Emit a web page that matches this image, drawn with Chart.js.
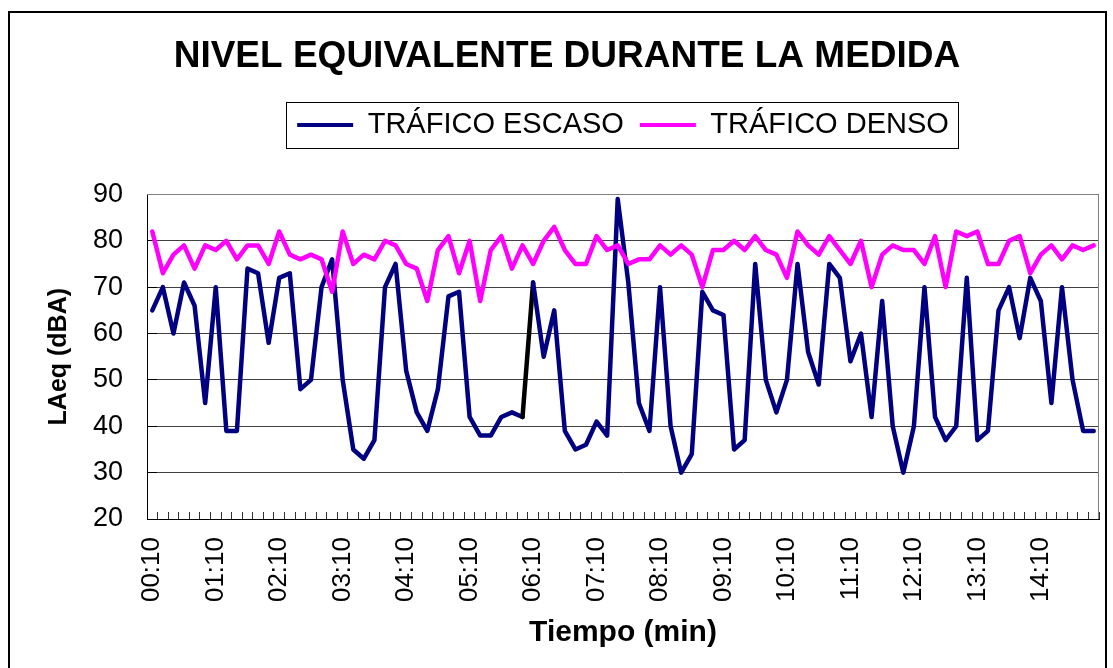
<!DOCTYPE html>
<html>
<head>
<meta charset="utf-8">
<script src="https://cdn.jsdelivr.net/npm/chart.js@4"></script>
<style>
    html, body { margin: 0; padding: 0; background: #fff; overflow: hidden; }
    #frame { position: absolute; left: 8px; top: 11px; width: 1095px; height: 700px; border: 2px solid #000; }
    #wrap { position: absolute; left: 0; top: 0; width: 1113px; height: 668px; }
</style>
</head>
<body>
<div id="frame"></div>
<div id="wrap"><canvas id="chart"></canvas></div>
<script>
const categories = [
    "00:10", "00:20", "00:30", "00:40", "00:50", "01:00",
    "01:10", "01:20", "01:30", "01:40", "01:50", "02:00",
    "02:10", "02:20", "02:30", "02:40", "02:50", "03:00",
    "03:10", "03:20", "03:30", "03:40", "03:50", "04:00",
    "04:10", "04:20", "04:30", "04:40", "04:50", "05:00",
    "05:10", "05:20", "05:30", "05:40", "05:50", "06:00",
    "06:10", "06:20", "06:30", "06:40", "06:50", "07:00",
    "07:10", "07:20", "07:30", "07:40", "07:50", "08:00",
    "08:10", "08:20", "08:30", "08:40", "08:50", "09:00",
    "09:10", "09:20", "09:30", "09:40", "09:50", "10:00",
    "10:10", "10:20", "10:30", "10:40", "10:50", "11:00",
    "11:10", "11:20", "11:30", "11:40", "11:50", "12:00",
    "12:10", "12:20", "12:30", "12:40", "12:50", "13:00",
    "13:10", "13:20", "13:30", "13:40", "13:50", "14:00",
    "14:10", "14:20", "14:30", "14:40", "14:50", "15:00",
];

const tickLabels = [
    "00:10", "01:10", "02:10", "03:10", "04:10", "05:10", "06:10", "07:10",
    "08:10", "09:10", "10:10", "11:10", "12:10", "13:10", "14:10",
];

const traficoEscaso = [
    65, 70, 60, 71, 66, 45, 70, 39, 39, 74, 73, 58, 72, 73, 48, 50, 70, 76,
    50, 35, 33, 37, 70, 75, 52, 43, 39, 48, 68, 69, 42, 38, 38, 42, 43, 42,
    71, 55, 65, 39, 35, 36, 41, 38, 89, 71, 45, 39, 70, 40, 30, 34, 69, 65,
    64, 35, 37, 75, 50, 43, 50, 75, 56, 49, 75, 72, 54, 60, 42, 67, 40, 30,
    40, 70, 42, 37, 40, 72, 37, 39, 65, 70, 59, 72, 67, 45, 70, 50, 39, 39,
];

const traficoDenso = [
    82, 73, 77, 79, 74, 79, 78, 80, 76, 79, 79, 75, 82, 77, 76, 77, 76, 69,
    82, 75, 77, 76, 80, 79, 75, 74, 67, 78, 81, 73, 80, 67, 78, 81, 74, 79,
    75, 80, 83, 78, 75, 75, 81, 78, 79, 75, 76, 76, 79, 77, 79, 77, 70, 78,
    78, 80, 78, 81, 78, 77, 72, 82, 79, 77, 81, 78, 75, 80, 70, 77, 79, 78,
    78, 75, 81, 70, 82, 81, 82, 75, 75, 80, 81, 73, 77, 79, 76, 79, 78, 79,
];

// one segment of the first series is drawn black in the original
const blackSegmentStart = 35;

Chart.defaults.font.family = "'Liberation Sans', Arial, sans-serif";
Chart.defaults.color = "#000";

const plotBorder = {
    id: "plotBorder",
    beforeDatasetsDraw(chart) {
        const { ctx, chartArea: a } = chart;
        ctx.save();
        ctx.strokeStyle = "#808080";
        ctx.lineWidth = 1;
        ctx.beginPath();
        ctx.moveTo(a.left, Math.round(a.top) + 0.5);
        ctx.lineTo(Math.round(a.right) - 0.5, Math.round(a.top) + 0.5);
        ctx.lineTo(Math.round(a.right) - 0.5, a.bottom);
        ctx.stroke();
        ctx.restore();
    },
};

const legendFrame = {
    id: "legendFrame",
    afterDraw(chart) {
        const boxes = chart.legend && chart.legend.legendHitBoxes;
        if (!boxes || !boxes.length) return;
        const first = boxes[0];
        const last = boxes[boxes.length - 1];
        const mid = first.top + first.height / 2;
        const left = Math.round(first.left - 11) + 0.5;
        const right = Math.round(last.left + last.width + 9) + 0.5;
        const top = Math.round(mid - 23) + 0.5;
        const { ctx } = chart;
        ctx.save();
        ctx.strokeStyle = "#000";
        ctx.lineWidth = 1;
        ctx.strokeRect(left, top, right - left, 46);
        ctx.restore();
    },
};

new Chart(document.getElementById("chart"), {
    type: "line",
    data: {
        labels: categories,
        datasets: [
            {
                label: "TRÁFICO ESCASO",
                data: traficoEscaso,
                borderColor: "#000080",
                backgroundColor: "#000080",
                order: 1,
                segment: {
                    borderColor: (ctx) => ctx.p0DataIndex === blackSegmentStart ? "#000" : undefined,
                },
            },
            {
                label: "TRÁFICO DENSO",
                data: traficoDenso,
                borderColor: "#ff00ff",
                backgroundColor: "#ff00ff",
                order: 0,
            },
        ],
    },
    options: {
        responsive: true,
        maintainAspectRatio: false,
        animation: false,
        layout: { padding: { top: 12, left: 35, right: 14, bottom: 0 } },
        elements: {
            line: { borderWidth: 4.5, tension: 0, borderJoinStyle: "round", borderCapStyle: "round" },
            point: { radius: 0, hoverRadius: 0 },
        },
        plugins: {
            title: {
                display: true,
                text: "NIVEL EQUIVALENTE DURANTE LA MEDIDA",
                font: { size: 37, weight: "bold", lineHeight: 1.2 },
                padding: { top: 23, bottom: 15 },
            },
            subtitle: {
                display: true,
                text: "",
                weight: 500,
                font: { size: 10, lineHeight: 1 },
                padding: { top: 35, bottom: 0 },
            },
            legend: {
                fullSize: false,
                labels: {
                    boxWidth: 56,
                    boxHeight: 4,
                    padding: 16,
                    font: { size: 29 },
                    sort: (a, b) => a.datasetIndex - b.datasetIndex,
                    generateLabels: (chart) =>
                        Chart.defaults.plugins.legend.labels.generateLabels(chart).map((l) => ({
                            ...l,
                            fillStyle: l.strokeStyle,
                            lineWidth: 0,
                        })),
                },
            },
            tooltip: { enabled: false },
        },
        scales: {
            x: {
                offset: true,
                afterFit: (scale) => {
                    scale.height = 149;
                    scale.paddingLeft = 0;
                    scale.paddingRight = 0;
                },
                grid: {
                    offset: true,
                    drawOnChartArea: false,
                    drawTicks: true,
                    tickLength: -7,
                    color: "#333",
                    tickColor: "#333",
                },
                border: { display: true, color: "#000", width: 1 },
                ticks: {
                    autoSkip: false,
                    minRotation: 90,
                    maxRotation: 90,
                    padding: 25,
                    font: { size: 26 },
                    callback: (value, index) => tickLabels.includes(categories[index]) ? categories[index] : "",
                },
                title: {
                    display: true,
                    text: "Tiempo (min)",
                    font: { size: 30, weight: "bold", lineHeight: 1 },
                    padding: { top: 0, bottom: 20 },
                },
            },
            y: {
                min: 20,
                max: 90,
                afterFit: (scale) => { scale.width = 112; },
                grid: {
                    color: "#404040",
                    tickColor: "#000",
                    drawTicks: true,
                    tickLength: -10,
                },
                border: { display: true, color: "#000", width: 1 },
                ticks: {
                    stepSize: 10,
                    padding: 34,
                    font: { size: 27 },
                },
                title: {
                    display: true,
                    text: "LAeq (dBA)",
                    font: { size: 25, weight: "bold", lineHeight: 1 },
                    padding: { top: 12, bottom: 0 },
                },
            },
        },
    },
    plugins: [plotBorder, legendFrame],
});
</script>
</body>
</html>
